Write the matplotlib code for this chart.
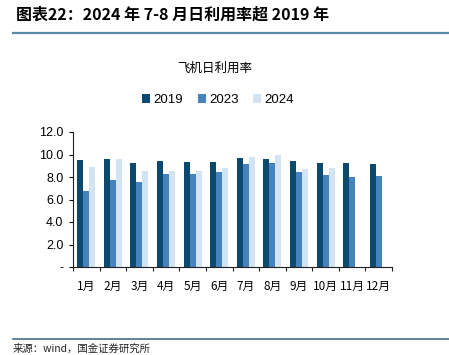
import matplotlib
matplotlib.use('Agg')
import matplotlib.pyplot as plt
import numpy as np

plt.rcParams['font.family'] = ['Liberation Sans', 'Noto Sans CJK SC', 'DejaVu Sans']

# 데이터
months = ['1月', '2月', '3月', '4月', '5月', '6月', '7月', '8月', '9月', '10月', '11月', '12月']
y2019 = [9.55, 9.64, 9.22, 9.43, 9.34, 9.34, 9.70, 9.58, 9.40, 9.28, 9.28, 9.16]
y2023 = [6.78, 7.73, 7.58, 8.27, 8.27, 8.45, 9.16, 9.28, 8.42, 8.21, 7.97, 8.09]
y2024 = [8.87, 9.64, 8.57, 8.57, 8.57, 8.78, 9.82, 9.94, 8.72, 8.84]
series = ['2019', '2023', '2024']
colors = ['#0b4a6e', '#4682be', '#d2e3f4']

fig = plt.figure(figsize=(4.49, 3.55), dpi=100)
ax = fig.add_axes([73/449, 1-267/355, (392-73)/449, (267-132)/355])

x = np.arange(len(months))
w = 0.225
ax.bar(x - w, y2019, w, color=colors[0], label=series[0])
ax.bar(x, y2023, w, color=colors[1], label=series[1])
ax.bar(np.arange(len(y2024)) + w, y2024, w, color=colors[2], label=series[2])

ax.set_xlim(-0.5, len(months) - 0.5)
ax.set_ylim(0, 12)
ax.set_yticks(np.arange(0, 13, 2))
ax.set_yticklabels(['-'] + ['%.1f' % v for v in np.arange(2, 13, 2)], fontsize=9)
ax.set_xticks(x)
ax.set_xticklabels(months, fontsize=8.5, family=['Noto Sans CJK SC'])
ax.tick_params(axis='x', length=0, pad=9)
ax.set_xticks(np.arange(-0.5, len(months) + 0.5), minor=True)
ax.tick_params(axis='x', which='minor', length=3, width=0.8, direction='out', colors='#222222')
ax.tick_params(axis='y', length=3, width=0.8, pad=4)
for s in ['top', 'right']:
    ax.spines[s].set_visible(False)
ax.spines['left'].set_color('#222222')
ax.spines['bottom'].set_color('#222222')

ax.legend(loc='center', bbox_to_anchor=(218/449, 1-100/355), bbox_transform=fig.transFigure,
          ncol=3, frameon=False, fontsize=9.5, handlelength=0.6, handleheight=0.6,
          handletextpad=0.25, columnspacing=1.1)

fig.text(215/449, 1-68/355, '飞机日利用率', ha='center', va='center', fontsize=9,
         family=['Noto Sans CJK SC'])

fig.text(16/449, 1-15/355, '图表22：2024 年 7-8 月日利用率超 2019 年', ha='left', va='center',
         fontsize=11.5, fontweight='bold', fontstyle='italic', family=['Noto Sans CJK SC'])
fig.add_artist(plt.Line2D([13/449, 1], [1-33/355, 1-33/355], color='#5a8aa6', lw=1.6))
fig.add_artist(plt.Line2D([13/449, 1], [1-339/355, 1-339/355], color='#3f6f92', lw=1.2))
fig.text(13/449, 1/355, '来源：wind，国金证券研究所', ha='left', va='bottom', fontsize=7.5,
         family=['Noto Sans CJK SC'], color='#222222')

fig.savefig('out.png', dpi=100)
